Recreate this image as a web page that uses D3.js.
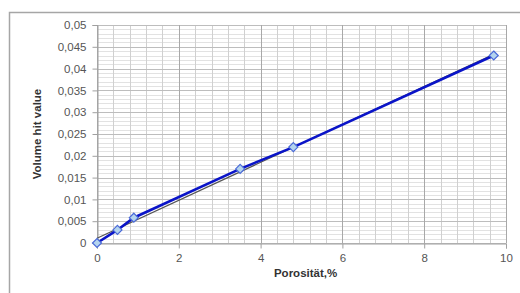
<!DOCTYPE html>
<html>
<head>
<meta charset="utf-8">
<script src="https://cdn.jsdelivr.net/npm/d3@7"></script>
<style>
  body { margin: 0; background: #fff; }
  svg { display: block; }
</style>
</head>
<body>
<svg id="chart" width="520" height="293"></svg>
<script>
// data
const porosity = [0, 0.5, 0.9, 3.5, 4.8, 9.7];
const volumeHit = [0, 0.003, 0.0058, 0.017, 0.022, 0.043];
// trend line end points (thin gray line)
const trendX = [0, 9.7];
const trendY = [0.0011, 0.0433];
const xTicks = [0, 2, 4, 6, 8, 10];
const yTicks = [0, 0.005, 0.01, 0.015, 0.02, 0.025, 0.03, 0.035, 0.04, 0.045, 0.05];

const svg = d3.select("#chart");
const width = 520, height = 293;
const margin = { top: 25, right: 14, bottom: 50, left: 97 };
const w = width - margin.left - margin.right;
const h = height - margin.top - margin.bottom;

// outer frame (cut off at the right and bottom)
svg.append("path")
  .attr("d", `M9.5,${height + 5} V12.5 H${width + 5}`)
  .attr("fill", "none")
  .attr("stroke", "#a6a6a6")
  .attr("stroke-width", 1.5);

const g = svg.append("g")
  .attr("transform", `translate(${margin.left},${margin.top})`);

const x = d3.scaleLinear().domain([0, 10]).range([0, w]);
const y = d3.scaleLinear().domain([0, 0.05]).range([h, 0]);

// minor grid
const minorY = d3.range(0, 51).map(i => i / 1000);
const minorX = d3.range(0, 26).map(i => i * 0.4);

g.append("g").selectAll("line")
  .data(minorY)
  .join("line")
    .attr("x1", 0).attr("x2", w)
    .attr("y1", d => Math.round(y(d)) + 0.5)
    .attr("y2", d => Math.round(y(d)) + 0.5)
    .attr("stroke", "#e2e2e2");

g.append("g").selectAll("line")
  .data(minorX)
  .join("line")
    .attr("y1", 0).attr("y2", h)
    .attr("x1", d => Math.round(x(d)) + 0.5)
    .attr("x2", d => Math.round(x(d)) + 0.5)
    .attr("stroke", "#d0d0d0");

// major grid
g.append("g").selectAll("line")
  .data(yTicks)
  .join("line")
    .attr("x1", 0).attr("x2", w)
    .attr("y1", d => Math.round(y(d)) + 0.5)
    .attr("y2", d => Math.round(y(d)) + 0.5)
    .attr("stroke", "#bdbdbd");

g.append("g").selectAll("line")
  .data(xTicks)
  .join("line")
    .attr("y1", 0).attr("y2", h)
    .attr("x1", d => Math.round(x(d)) + 0.5)
    .attr("x2", d => Math.round(x(d)) + 0.5)
    .attr("stroke", "#a8a8a8");

// axes
const fmtY = d => d === 0 ? "0" : d3.format("")(+d.toFixed(3)).replace(".", ",");

const yAxis = g.append("g")
  .attr("transform", "translate(0.5,0)")
  .call(d3.axisLeft(y).tickValues(yTicks).tickFormat(fmtY).tickSize(5).tickPadding(6));
yAxis.select(".domain").attr("stroke", "#a0a0a0");
yAxis.selectAll(".tick line").attr("stroke", "#a0a0a0");
yAxis.selectAll("text")
  .attr("fill", "#555")
  .attr("font-family", "'Liberation Sans', Arial, sans-serif")
  .attr("font-size", "11.5px");

const xAxis = g.append("g")
  .attr("transform", `translate(0,${h + 0.5})`)
  .call(d3.axisBottom(x).tickValues(xTicks).tickSize(5).tickPadding(5));
xAxis.select(".domain").attr("stroke", "#a0a0a0");
xAxis.selectAll(".tick line").attr("stroke", "#a0a0a0");
xAxis.selectAll("text")
  .attr("fill", "#555")
  .attr("font-family", "'Liberation Sans', Arial, sans-serif")
  .attr("font-size", "11.5px");

// trend line
g.append("line")
  .attr("x1", x(trendX[0])).attr("y1", y(trendY[0]))
  .attr("x2", x(trendX[1])).attr("y2", y(trendY[1]))
  .attr("stroke", "#555")
  .attr("stroke-width", 1.2);

// data line
const pts = porosity.map((p, i) => [p, volumeHit[i]]);
g.append("path")
  .datum(pts)
  .attr("fill", "none")
  .attr("stroke", "#0a14c8")
  .attr("stroke-width", 2.6)
  .attr("d", d3.line().x(d => x(d[0])).y(d => y(d[1])));

// diamond markers
g.selectAll(".marker")
  .data(pts)
  .join("path")
    .attr("class", "marker")
    .attr("transform", d => `translate(${x(d[0])},${y(d[1])})`)
    .attr("d", "M0,-4.5 L4.5,0 L0,4.5 L-4.5,0 Z")
    .attr("fill", "#b4d4ee")
    .attr("stroke", "#4a6ad8")
    .attr("stroke-width", 1.2);

// axis titles
svg.append("text")
  .attr("x", margin.left + x(5.1))
  .attr("y", 277)
  .attr("text-anchor", "middle")
  .attr("fill", "#333")
  .attr("font-family", "'Liberation Sans', Arial, sans-serif")
  .attr("font-size", "11.5px")
  .attr("font-weight", "bold")
  .text("Porosität,%");

svg.append("text")
  .attr("transform", `translate(41,${margin.top + h / 2}) rotate(-90)`)
  .attr("text-anchor", "middle")
  .attr("fill", "#333")
  .attr("font-family", "'Liberation Sans', Arial, sans-serif")
  .attr("font-size", "11.5px")
  .attr("font-weight", "bold")
  .text("Volume hit value");
</script>
</body>
</html>
